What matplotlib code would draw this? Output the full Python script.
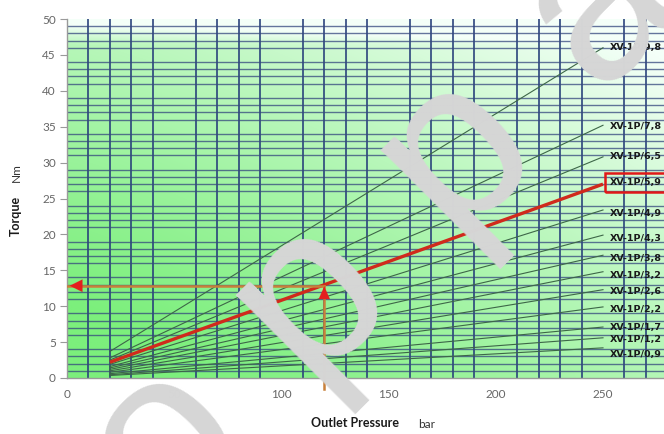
import numpy as np
import matplotlib
matplotlib.use("Agg")
import matplotlib.pyplot as plt
from matplotlib.ticker import MultipleLocator

# ---- data ----
models = ['XV-1P/0,9', 'XV-1P/1,2', 'XV-1P/1,7', 'XV-1P/2,2', 'XV-1P/2,6',
          'XV-1P/3,2', 'XV-1P/3,8', 'XV-1P/4,3', 'XV-1P/4,9', 'XV-1P/5,9',
          'XV-1P/6,5', 'XV-1P/7,8', 'XV-1P/9,8']
pressure_start = 20
pressure_end = 250
torque_start = [0.35, 0.45, 0.6, 0.8, 1.0, 1.2, 1.4, 1.6, 1.9, 2.2, 2.5, 2.8, 3.7]
torque_end = [4.2, 5.6, 7.1, 9.9, 12.3, 14.8, 17.1, 19.9, 23.4, 27.0, 30.8, 35.2, 46.0]
label_y = [3.3, 5.3, 7.1, 9.6, 12.0, 14.3, 16.7, 19.4, 22.9, 27.2, 30.8, 35.0, 46.1]
highlight = 'XV-1P/5,9'
read_pressure = 120
read_torque = 12.85
x_ticks = [0, 50, 100, 150, 200, 250]
y_ticks = [0, 5, 10, 15, 20, 25, 30, 35, 40, 45, 50]
watermark = ['o', 'p', 'p', 'a']

W, H = 664, 434
fig = plt.figure(figsize=(W / 100, H / 100), dpi=100)
x0, x1 = 67, 664
y0, y1 = 378, 19
ax = fig.add_axes([x0 / W, 1 - y0 / H, (x1 - x0) / W, (y0 - y1) / H])
xmax = (x1 - x0) / ((603 - 67) / 250)
ax.set_xlim(0, xmax)
ax.set_ylim(0, 50)

# gradient background
nx, ny = 300, 200
gx = np.linspace(0, 1, nx)
gy = np.linspace(0, 1, ny)
GX, GY = np.meshgrid(gx, gy)
t = np.clip(0.62 * GY ** 1.3 + 0.55 * GX ** 1.2 - 0.08, 0, 1)
t = np.clip(t + 0.6 * np.clip((GY - 0.93) / 0.07, 0, 1), 0, 1)
c_green = np.array([0x7c, 0xef, 0x7c]) / 255
c_pale = np.array([0xf4, 0xff, 0xf8]) / 255
img = c_green[None, None, :] * (1 - t[..., None]) + c_pale[None, None, :] * t[..., None]
ax.imshow(img, extent=[0, xmax, 0, 50], origin='lower', aspect='auto', zorder=0,
          interpolation='bilinear')

# grid
ax.xaxis.set_minor_locator(MultipleLocator(10))
ax.yaxis.set_minor_locator(MultipleLocator(1))
ax.grid(which='minor', axis='x', color='#27407a', lw=1.3, alpha=0.9, zorder=1)
ax.grid(which='minor', axis='y', color='#34477e', lw=1.0, alpha=0.75, zorder=1)
ax.set_axisbelow(True)

# lines
for m, ts, te, ly in zip(models, torque_start, torque_end, label_y):
    if m == highlight:
        ax.plot([pressure_start, pressure_end], [ts, te], color='#d02a1c', lw=2.4,
                zorder=4, solid_capstyle='butt')
        ax.text(pressure_end + 3.2, ly, m, fontsize=6.8, fontweight='bold',
                family='DejaVu Sans', color='#1a1a1a', va='center', ha='left',
                zorder=6,
                bbox=dict(boxstyle='square,pad=0.5', fc='none', ec='#e01818', lw=1.8))
    else:
        ax.plot([pressure_start, pressure_end], [ts, te], color='#3d6648', lw=0.8,
                zorder=3)
        ax.text(pressure_end + 3.2, ly, m, fontsize=6.8, fontweight='bold',
                family='DejaVu Sans', color='#1a1a1a', va='center', ha='left', zorder=6)

# reading annotation
line_c = '#c8803a'
ax.plot([0, read_pressure], [read_torque, read_torque], color=line_c, lw=1.8, zorder=5)
ax.plot([read_pressure, read_pressure], [-1.6, read_torque], color=line_c, lw=1.8,
        zorder=5, clip_on=False)
ax.annotate('', xy=(0, read_torque), xytext=(8, read_torque),
            arrowprops=dict(arrowstyle='-|>,head_length=0.9,head_width=0.45',
                            color='#e41e1e', lw=0.1), zorder=6)
ax.annotate('', xy=(read_pressure, read_torque + 0.3),
            xytext=(read_pressure, read_torque - 2.5),
            arrowprops=dict(arrowstyle='-|>,head_length=0.9,head_width=0.4',
                            color='#e41e1e', lw=0.1), zorder=6)

# axes styling
for s in ['top', 'right']:
    ax.spines[s].set_visible(False)
for s in ['left', 'bottom']:
    ax.spines[s].set_color('#9a9a9a')
    ax.spines[s].set_linewidth(1.0)
ax.set_xticks(x_ticks)
ax.set_yticks(y_ticks)
ax.tick_params(which='minor', length=0)
ax.tick_params(axis='y', which='major', length=5, color='#9a9a9a', pad=3,
               labelsize=8.5, labelcolor='#666666')
ax.tick_params(axis='x', which='major', length=0, pad=8,
               labelsize=8.5, labelcolor='#666666')
for lab in ax.get_xticklabels() + ax.get_yticklabels():
    lab.set_family('Lato')

# axis titles
fig.text(355 / W, 1 - 423 / H, 'Outlet Pressure', ha='center', va='center',
         fontsize=9, fontweight='bold', family='Lato', color='#1a1a1a')
fig.text(418 / W, 1 - 424 / H, 'bar', ha='left', va='center',
         fontsize=8.5, family='Lato', color='#333333')
fig.text(16 / W, 1 - 216 / H, 'Torque', ha='center', va='center', rotation=90,
         fontsize=9, fontweight='bold', family='Lato', color='#1a1a1a')
fig.text(16 / W, 1 - 173 / H, 'Nm', ha='center', va='center', rotation=90,
         fontsize=8.5, family='Lato', color='#333333')

# watermark (large grey letters along a diagonal)
ang = np.deg2rad(45)
start = np.array([165.0, 440.0])
step = 205.0
for i, ch in enumerate(watermark):
    cx = start[0] + i * step * np.cos(ang)
    cy = start[1] - i * step * np.sin(ang)
    fig.text(cx / W, 1 - cy / H, ch, ha='center', va='center', rotation=45,
             rotation_mode='anchor', fontsize=165, family='Liberation Sans',
             color='#d6d6d6', zorder=20)

fig.savefig('out.png', dpi=100)
